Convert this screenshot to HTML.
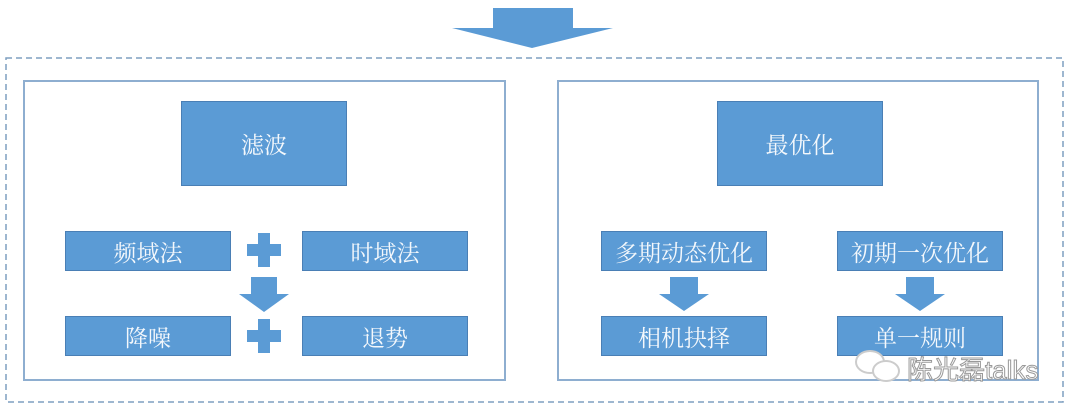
<!DOCTYPE html>
<html><head><meta charset="utf-8"><style>
body{margin:0;width:1080px;height:413px;background:#fff;position:relative;overflow:hidden;font-family:"Liberation Serif","Noto Serif CJK SC",serif}
.b{position:absolute;background:#5b9bd5;border:1px solid #4a7fb5;color:#f4f8fc;display:flex;align-items:center;justify-content:center;box-sizing:border-box;font-size:23px}
.f{position:absolute;border:2px solid #8eaed0;box-sizing:border-box}
</style></head><body>
<svg width="1080" height="413" style="position:absolute;left:0;top:0">
<rect x="6" y="58" width="1057" height="344" fill="none" stroke="#7f9fc0" stroke-width="1.5" stroke-dasharray="6,4"/>
<polygon points="493,8 573,8 573,28 613,28 532,48 452,28 493,28" fill="#5b9bd5"/>
<g fill="#5b9bd5">
<path d="M258,233h12v11h11v12h-11v11h-12v-11h-11v-12h11z"/>
<path d="M258,319h12v11h11v12h-11v11h-12v-11h-11v-12h11z"/>
<polygon points="251,277 277,277 277,294 289,294 264,312 239,294 251,294"/>
<polygon points="670,277 698,277 698,294 709,294 684,311 659,294 670,294"/>
<polygon points="906,277 934,277 934,294 945,294 920,311 895,294 906,294"/>
</g>
</svg>
<div class="f" style="left:23px;top:80px;width:483px;height:301px"></div>
<div class="f" style="left:557px;top:80px;width:482px;height:301px"></div>
<div class="b" style="left:181px;top:101px;width:166px;height:85px">滤波</div>
<div class="b" style="left:65px;top:231px;width:166px;height:40px">频域法</div>
<div class="b" style="left:302px;top:231px;width:166px;height:40px">时域法</div>
<div class="b" style="left:65px;top:316px;width:166px;height:40px">降噪</div>
<div class="b" style="left:302px;top:316px;width:166px;height:40px">退势</div>
<div class="b" style="left:717px;top:101px;width:166px;height:85px">最优化</div>
<div class="b" style="left:601px;top:231px;width:166px;height:40px">多期动态优化</div>
<div class="b" style="left:837px;top:231px;width:166px;height:40px">初期一次优化</div>
<div class="b" style="left:601px;top:316px;width:166px;height:40px">相机抉择</div>
<div class="b" style="left:837px;top:316px;width:166px;height:40px">单一规则</div>
<div style="position:absolute;left:855px;top:350px;width:26px;height:20px;border:2px solid #ccc;border-radius:50%;background:#fff"></div>
<div style="position:absolute;left:872px;top:360px;width:24px;height:18px;border:2px solid #ccc;border-radius:50%;background:#fff"></div>
<div style="position:absolute;left:907px;top:350px;color:#fff;font-family:'Liberation Sans','Noto Sans CJK SC',sans-serif;font-size:26px;-webkit-text-stroke:1px #999">陈光磊talks</div>
</body></html>
